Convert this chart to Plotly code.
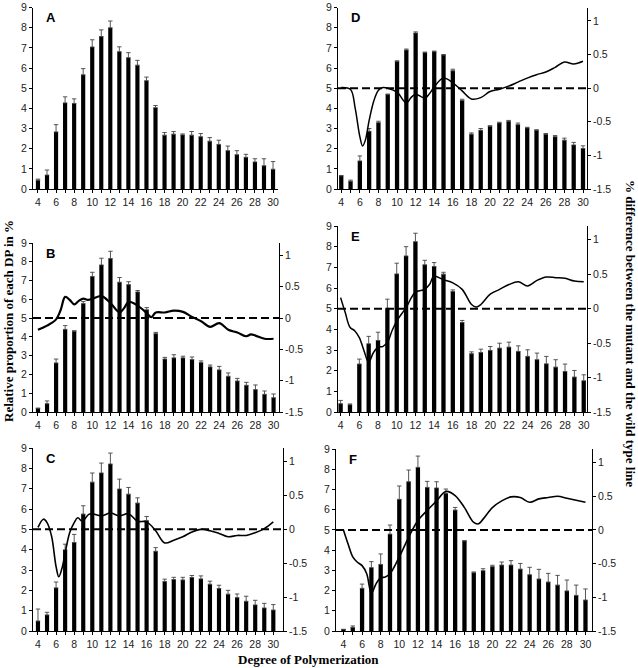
import plotly.graph_objects as go

W, H = 638, 668

dp = list(range(4, 31))

# Bar values (relative proportion of each DP, %) and upper error
vals_A = [0.44,0.69,2.83,4.27,4.24,5.66,7.04,7.56,7.99,6.81,6.51,6.14,5.37,4.03,2.67,2.72,2.68,2.67,2.59,2.37,2.21,1.9,1.7,1.57,1.34,1.15,0.98]
err_A = [0.05,0.25,0.36,0.3,0.23,0.31,0.36,0.33,0.34,0.24,0.25,0.24,0.18,0.11,0.13,0.13,0.05,0.18,0.16,0.18,0.21,0.23,0.2,0.15,0.16,0.35,0.38]

vals_B = [0.2,0.44,2.61,4.4,4.3,5.77,7.21,7.83,8.17,6.91,6.78,6.39,5.44,4.17,2.82,2.88,2.88,2.79,2.63,2.4,2.24,1.9,1.65,1.42,1.19,0.94,0.76]
err_B = [0.0,0.15,0.21,0.2,0.03,0.11,0.23,0.36,0.39,0.25,0.16,0.08,0.12,0.07,0.09,0.17,0.09,0.14,0.09,0.1,0.19,0.18,0.14,0.16,0.25,0.18,0.2]

vals_C = [0.49,0.79,2.12,3.99,4.35,5.75,7.32,7.77,8.21,6.98,6.73,6.29,5.43,3.92,2.43,2.53,2.51,2.63,2.56,2.3,2.09,1.81,1.64,1.46,1.28,1.13,1.03]
err_C = [0.59,0.13,0.29,0.28,0.4,0.41,0.45,0.49,0.54,0.49,0.33,0.26,0.2,0.18,0.12,0.11,0.13,0.1,0.15,0.15,0.16,0.19,0.18,0.25,0.23,0.23,0.27]

vals_D = [0.65,0.38,1.39,2.86,3.29,4.68,6.32,6.89,7.73,6.76,6.81,6.64,5.86,4.39,2.72,2.91,3.11,3.27,3.36,3.19,3.03,2.91,2.72,2.59,2.42,2.18,2.01]
err_D = [0.02,0.06,0.25,0.14,0.07,0.03,0.04,0.05,0.06,0.03,0.03,0.03,0.08,0.06,0.06,0.09,0.03,0.04,0.04,0.08,0.03,0.03,0.03,0.06,0.1,0.13,0.13]

vals_E = [0.4,0.35,2.32,3.3,3.46,5.02,6.68,7.55,8.24,7.12,7.04,6.67,5.83,4.33,2.82,2.88,2.98,3.09,3.14,2.93,2.69,2.53,2.33,2.17,1.96,1.69,1.51]
err_E = [0.16,0.04,0.24,0.36,0.4,0.44,0.52,0.45,0.41,0.22,0.19,0.09,0.08,0.1,0.09,0.16,0.19,0.24,0.24,0.27,0.32,0.32,0.36,0.36,0.36,0.32,0.29]

vals_F = [0.08,0.18,2.11,3.13,3.29,4.79,6.51,7.38,8.09,7.1,7.07,6.8,5.98,4.46,2.88,2.98,3.18,3.26,3.26,3.06,2.78,2.57,2.42,2.27,1.98,1.76,1.53]
err_F = [0.0,0.07,0.21,0.3,0.52,0.45,0.66,0.58,0.56,0.3,0.31,0.22,0.13,0.0,0.04,0.1,0.07,0.15,0.22,0.28,0.37,0.48,0.43,0.48,0.54,0.51,0.55]

# % difference between mutant and wild type (right axis)
lx_B = [4,5,6,6.5,7,7.5,8,8.5,9,9.5,10,11,12,13,13.5,14,15,16,16.5,17,18,19,20,21,22,23,24,25,26,27,27.5,28,29,30]
ly_B = [-0.185,-0.12,-0.02,0.13,0.34,0.29,0.22,0.275,0.31,0.29,0.31,0.35,0.24,0.09,0.16,0.26,0.2,0.08,0.015,0.09,0.09,0.12,0.1,0.02,-0.05,-0.14,-0.08,-0.185,-0.23,-0.29,-0.26,-0.28,-0.33,-0.33]

lx_C = [4,4.6,5,5.5,6,6.3,6.7,7,7.5,8,8.4,8.9,9.6,10,11,12,13,14,15,16,17,18,19,20,21,22,23,24,25,26,27,28,29,30]
ly_C = [0.03,0.15,0.1,-0.1,-0.55,-0.7,-0.55,-0.35,-0.05,0.1,0.17,0.12,0.22,0.23,0.2,0.24,0.2,0.23,0.12,0.11,-0.02,-0.2,-0.16,-0.11,-0.04,0,-0.02,-0.06,-0.11,-0.09,-0.09,-0.05,0.01,0.11]

lx_D = [4,5,5.5,6,6.3,6.6,7,7.5,8,8.5,9,10,11,11.5,12,13,13.5,14,15,16,17,18,19,20,21,22,23,24,25,26,27,28,29,30]
ly_D = [0.01,-0.02,-0.3,-0.72,-0.86,-0.77,-0.48,-0.19,-0.03,0.01,0,-0.06,-0.22,-0.14,-0.09,-0.15,-0.08,0.02,0.15,0.08,-0.04,-0.16,-0.14,-0.05,-0.015,0.03,0.09,0.15,0.2,0.24,0.31,0.39,0.36,0.4]

lx_E = [4,4.5,5,5.5,6,6.5,7,7.5,8,8.5,9,9.5,10,11,12,13,13.5,14,15,16,17,18,18.5,19,20,21,22,23,24,25,26,27,28,29,30]
ly_E = [0.16,-0.06,-0.27,-0.32,-0.42,-0.61,-0.78,-0.64,-0.56,-0.55,-0.49,-0.32,-0.18,0.015,0.24,0.28,0.35,0.47,0.42,0.375,0.28,0.06,0.025,0.06,0.21,0.28,0.35,0.39,0.33,0.41,0.46,0.45,0.44,0.4,0.39]

lx_F = [4,4.5,5,5.5,6,6.5,7,7.5,8,8.5,9,10,11,12,13,14,15,16,17,18,18.5,19,20,21,22,23,24,25,26,27,28,29,30]
ly_F = [0,-0.21,-0.4,-0.48,-0.53,-0.65,-0.94,-0.8,-0.71,-0.7,-0.65,-0.4,-0.11,0.14,0.29,0.43,0.57,0.51,0.33,0.11,0.09,0.16,0.33,0.43,0.49,0.48,0.41,0.46,0.48,0.5,0.47,0.44,0.41]

left_ticks = list(range(0, 10))
right_ticks = [-1.5, -1, -0.5, 0, 0.5, 1]
right_labels = ["-1.5", "-1", "-0.5", "0", "0.5", "1"]
x_labels = [str(d) if d % 2 == 0 else "" for d in dp]

panels = [
    # name, vals, err, line x, line y, px box (l, r, top, bottom), x range, line width
    ("A", vals_A, err_A, None, None, (33, 278, 7.5, 189), (3.45, 30.55), 0),
    ("B", vals_B, err_B, lx_B, ly_B, (33, 279, 243, 412), (3.45, 30.6), 2.2),
    ("C", vals_C, err_C, lx_C, ly_C, (33, 283, 448, 631), (3.45, 31.07), 1.6),
    ("D", vals_D, err_D, lx_D, ly_D, (338, 587, 7.5, 189), (3.65, 30.43), 1.5),
    ("E", vals_E, err_E, lx_E, ly_E, (338, 587, 226, 412), (3.72, 30.35), 1.5),
    ("F", vals_F, err_F, lx_F, ly_F, (336, 592, 449, 631), (3.2, 30.7), 1.6),
]

tick_font = dict(family="Liberation Sans, Arial, sans-serif", size=10.5, color="#222")
title_font = dict(family="Liberation Serif, Times New Roman, serif", size=13, color="black", weight="bold")

fig = go.Figure()
layout = dict(
    width=W, height=H, margin=dict(l=0, r=0, t=0, b=0, autoexpand=False),
    paper_bgcolor="white", plot_bgcolor="white", showlegend=False,
    bargap=0.5,
)
annotations = []
shapes = []

for i, (name, vals, err, lx, ly, box, xr, lw) in enumerate(panels, start=1):
    l, r, t, b = box
    xd = [l / W, r / W]
    yd = [1 - b / H, 1 - t / H]
    xa = "x" if i == 1 else f"x{i}"
    ya = "y" if i == 1 else f"y{i}"
    xkey = "xaxis" if i == 1 else f"xaxis{i}"
    ykey = "yaxis" if i == 1 else f"yaxis{i}"

    fig.add_trace(go.Bar(
        x=dp, y=vals, xaxis=xa, yaxis=ya, marker=dict(color="black", line=dict(width=0)),
        width=0.46,
        error_y=dict(type="data", symmetric=False, array=err, arrayminus=[0] * len(err),
                     color="#444", thickness=0.9, width=2.2),
    ))

    layout[xkey] = dict(domain=xd, anchor=ya, range=list(xr), tickmode="array",
                        tickvals=dp, ticktext=x_labels, ticks="outside", ticklen=3,
                        tickwidth=1, tickcolor="black", showline=True, linecolor="black",
                        linewidth=1, showgrid=False, zeroline=False, tickfont=tick_font,
                        fixedrange=True, automargin=False, ticklabeloverflow="allow")
    layout[ykey] = dict(domain=yd, anchor=xa, range=[0, 9], tickmode="array",
                        tickvals=left_ticks, ticks="outside", ticklen=3, tickwidth=1,
                        tickcolor="black", showline=True, linecolor="black", linewidth=1,
                        showgrid=False, zeroline=False, tickfont=tick_font, fixedrange=True,
                        automargin=False, ticklabeloverflow="allow")

    if lx is not None:
        rk = i + 6
        ra = f"y{rk}"
        layout[f"yaxis{rk}"] = dict(overlaying=ya, side="right", anchor=xa, range=[-1.5, 1.2],
                                    tickmode="array", tickvals=right_ticks, ticktext=right_labels,
                                    ticks="outside", ticklen=3, tickwidth=1, tickcolor="black",
                                    showline=True, linecolor="black", linewidth=1,
                                    showgrid=False, zeroline=False, tickfont=tick_font,
                                    fixedrange=True, automargin=False,
                                    ticklabeloverflow="allow")
        fig.add_trace(go.Scatter(
            x=lx, y=ly, xaxis=xa, yaxis=ra, mode="lines",
            line=dict(color="black", width=lw, shape="spline", smoothing=1.0),
        ))
        shapes.append(dict(type="line", xref=f"{xa} domain", yref=ra, x0=0, x1=1, y0=0, y1=0,
                           line=dict(color="black", width=2, dash="8px,4px")))

    annotations.append(dict(text=name, xref="paper", yref="paper",
                            x=(l + 11) / W, y=1 - (t + 1) / H, xanchor="left", yanchor="top",
                            showarrow=False,
                            font=dict(family="Liberation Sans, Arial, sans-serif", size=13,
                                      color="black", weight="bold")))

annotations.append(dict(text="Relative proportion of each DP in %", xref="paper", yref="paper",
                        x=8 / W, y=1 - 321 / H, textangle=-90, showarrow=False,
                        xanchor="center", yanchor="middle", font=title_font))
annotations.append(dict(text="% difference between the mutant and the wild type line",
                        xref="paper", yref="paper", x=631 / W, y=1 - 333 / H, textangle=90,
                        showarrow=False, xanchor="center", yanchor="middle", font=title_font))
annotations.append(dict(text="Degree of Polymerization", xref="paper", yref="paper",
                        x=308 / W, y=1 - 659 / H, showarrow=False, xanchor="center",
                        yanchor="middle", font=title_font))

layout["annotations"] = annotations
layout["shapes"] = shapes
fig.update_layout(**layout)
fig.write_html("out.html", config={"displayModeBar": False},
               post_script="document.body.style.margin='0';document.body.style.padding='0';")
